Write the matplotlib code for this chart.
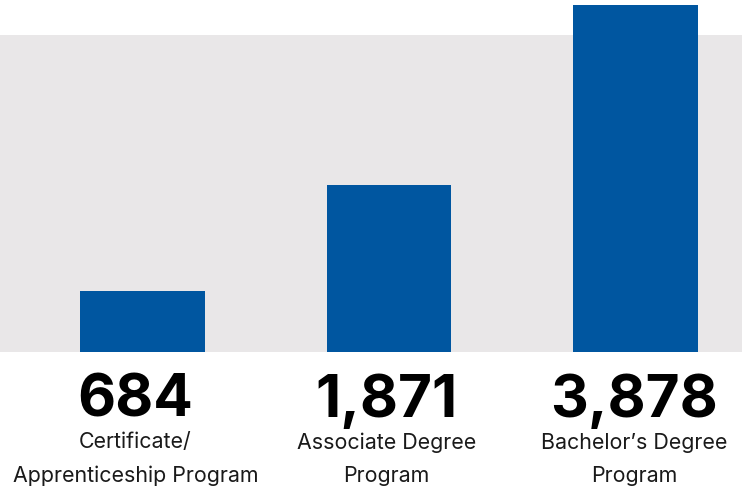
import matplotlib
matplotlib.use("Agg")
import matplotlib.pyplot as plt
from matplotlib.patches import Rectangle

# ── Data ─────────────────────────────────────────────────────────────
categories = ["Certificate/\nApprenticeship Program",
              "Associate Degree\nProgram",
              "Bachelor\u2019s Degree\nProgram"]
values = [684, 1871, 3878]

BAR_COLOR = "#0056a0"
BG_GRAY = "#e9e7e8"
W, H = 742, 491

plt.rcParams["font.family"] = ["Inter", "DejaVu Sans"]

fig = plt.figure(figsize=(W / 100, H / 100), dpi=100)
fig.patch.set_facecolor("white")

# gray band behind bars (pixel 35 -> 352 from top)
fig.patches.append(Rectangle((0, 1 - 352 / H), 1, (352 - 35) / H,
                             transform=fig.transFigure, facecolor=BG_GRAY,
                             edgecolor="none", zorder=-1))

# axes: bottom at y=352px, top at y=5px
ax = fig.add_axes([0, 1 - 352 / H, 1, (352 - 5) / H])
ax.set_zorder(2)
ax.set_facecolor("none")
x = range(len(values))
ax.bar(x, values, width=0.507, color=BAR_COLOR, zorder=2)
ax.set_xlim(-0.578, 2.432)
ax.set_ylim(0, max(values))
ax.axis("off")

# labels in the reference sit a little left of the bar centres
dx = [-5, -2, -1]
for i, (v, c) in enumerate(zip(values, categories)):
    ax.annotate(f"{v:,}", xy=(i, 0), xytext=(dx[i], -46.6),
                textcoords="offset points", ha="center", va="baseline",
                fontsize=42.2, fontweight="bold", color="black",
                annotation_clip=False)
    # va="baseline" anchors the last line here
    ax.annotate(c, xy=(i, 0), xytext=(dx[i], -93.6),
                textcoords="offset points", ha="center", va="baseline",
                fontsize=15.4, color="#1a1a1a", linespacing=1.8,
                multialignment="center", annotation_clip=False)

fig.savefig("out.png", dpi=100, facecolor="white")
